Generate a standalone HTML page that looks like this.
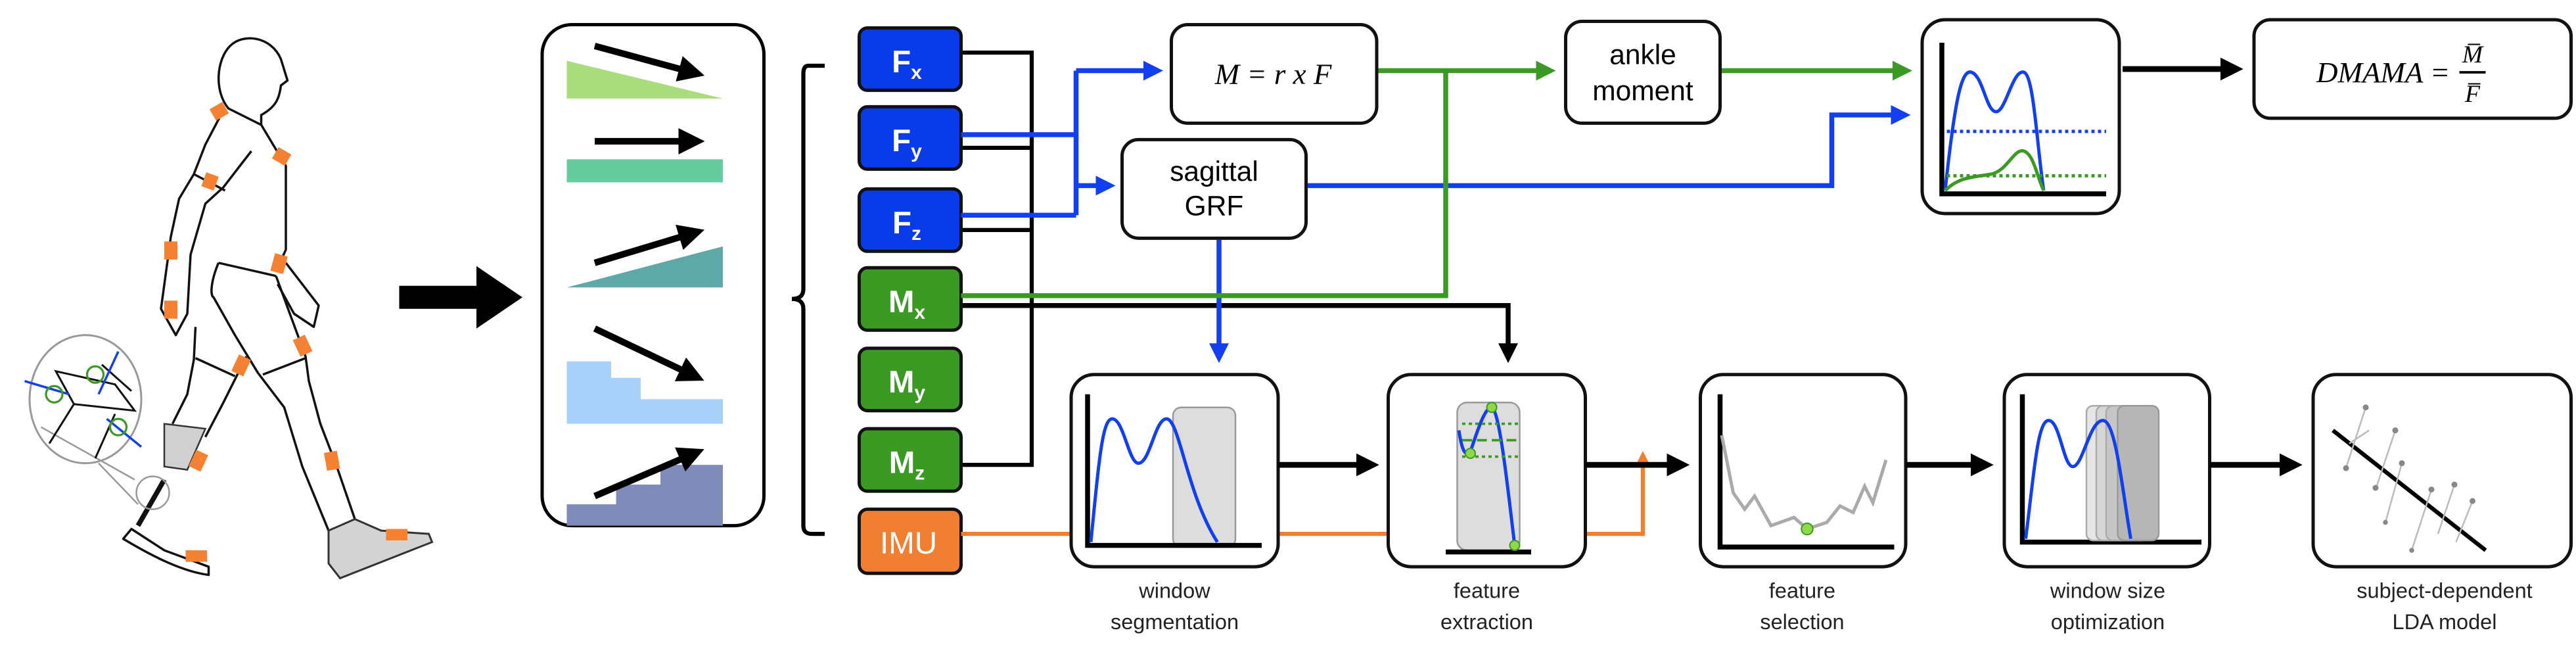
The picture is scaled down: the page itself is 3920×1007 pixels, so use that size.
<!DOCTYPE html>
<html><head><meta charset="utf-8"><style>
html,body{margin:0;padding:0;background:#fff;}
svg{display:block;}
</style></head><body>
<svg width="3920" height="1007" viewBox="0 0 1568 403" preserveAspectRatio="none" xmlns="http://www.w3.org/2000/svg">
<defs>
<marker id="ak" markerWidth="4" markerHeight="4" refX="3" refY="2" orient="auto" markerUnits="strokeWidth"><path d="M0,0 L4,2 L0,4 z" fill="#000"/></marker>
<marker id="ab" markerWidth="4" markerHeight="4" refX="3" refY="2" orient="auto" markerUnits="strokeWidth"><path d="M0,0 L4,2 L0,4 z" fill="#1240f0"/></marker>
<marker id="ag" markerWidth="4" markerHeight="4" refX="3" refY="2" orient="auto" markerUnits="strokeWidth"><path d="M0,0 L4,2 L0,4 z" fill="#3a9a24"/></marker>
<marker id="ao" markerWidth="4" markerHeight="4" refX="3" refY="2" orient="auto" markerUnits="strokeWidth"><path d="M0,0 L4,2 L0,4 z" fill="#f08030"/></marker>
</defs>
<rect width="1568" height="403" fill="#fff"/>

<!-- walker -->
<g fill="none" stroke="#111" stroke-width="1.4" stroke-linejoin="round">
<path d="M139,66 C130,55 132,36 140,28 C148,20 165,22 171,36 L175,49 L171,52 C170,60 168,65 159,70 L159,76 L139,66 Z"/>
<path d="M159,76 L174,101 L174,152 L168,165"/>
<path d="M136,67 L125,88 L118,106 L109,121 L104,144 L98,188 L107,204 L114,191 L116,155 L125,124 L136,114 L146,101 L153,92"/>
<path d="M118,106 L137,116"/>
<path d="M133,160 L168,168"/>
<path d="M174,160 L194,186 L191,199 L179,191 L169,173"/>
<path d="M133,160 C128,172 128,180 130,181 L143,204 L157,227 L173,248 L184,284 L200,323"/>
<path d="M168,168 L186,217 L188,232 L195,258 L205,284 L216,316"/>
<path d="M119,218 L143,229 M160,228 L186,218"/>
<path d="M150,217 L136,245 L125,266"/>
<path d="M119,199 L118,219 L114,240 L105,258"/>
<path d="M100,292 L84,320" stroke-width="3"/>
<path d="M75,328 C95,340 112,348 127,350 L127,345 L100,335 L80,322 Z"/>
</g>
<path d="M100,258 L125,261 L114,286 L100,284 Z" fill="#d0d0d0" stroke="#333" stroke-width="1"/>
<path d="M200,323 L216,316 L232,323 L261,325 L263,330 L207,352 L200,343 Z" fill="#d3d3d3" stroke="#333" stroke-width="1.2"/>
<ellipse cx="52" cy="243" rx="34" ry="39" fill="#fff" stroke="#999" stroke-width="1.2"/>
<circle cx="93" cy="300" r="10" fill="none" stroke="#999" stroke-width="1"/>
<path d="M60,282 L84,307 M25,260 L82,292" stroke="#999" stroke-width="1"/>
<g stroke="#111" stroke-width="1.2" fill="none">
<path d="M34,226 L70,234 L82,250 L45,246 Z M45,246 L30,270 M70,252 L58,279 M62,222 L80,238"/>
</g>
<g stroke="#1240f0" stroke-width="1.4"><path d="M42,240 L15,232 M60,240 L72,214 M65,255 L86,272"/></g>
<g stroke="#3a9a24" stroke-width="1.3" fill="none"><circle cx="33" cy="240" r="5"/><circle cx="58" cy="228" r="5"/><circle cx="72" cy="260" r="5"/></g>
<g fill="#f58232">
<rect x="129" y="64" width="9" height="8" transform="rotate(-30 133 68)"/>
<rect x="167" y="91" width="9" height="8" transform="rotate(30 171 95)"/>
<rect x="124" y="106" width="8" height="9" transform="rotate(20 128 110)"/>
<rect x="100" y="147" width="8" height="11"/>
<rect x="100" y="183" width="8" height="11"/>
<rect x="166" y="155" width="8" height="11" transform="rotate(15 170 160)"/>
<rect x="180" y="205" width="8" height="11" transform="rotate(-25 184 210)"/>
<rect x="143" y="217" width="8" height="11" transform="rotate(25 147 222)"/>
<rect x="117" y="275" width="8" height="11" transform="rotate(25 121 280)"/>
<rect x="198" y="275" width="8" height="11" transform="rotate(-10 202 280)"/>
<rect x="113" y="335" width="13" height="7"/>
<rect x="235" y="322" width="13" height="7"/>
</g>

<!-- big arrow -->
<path d="M243,174 L290,174 L290,162 L318,181 L290,200 L290,188 L243,188 Z" fill="#000"/>

<!-- left panel -->
<rect x="330" y="15" width="135" height="305" rx="18" fill="#fff" stroke="#000" stroke-width="2"/>
<polygon points="345,37 440,60 345,60" fill="#a8dc7c"/>
<polygon points="345,97 440,97 440,111 345,111" fill="#66cca0"/>
<polygon points="345,175 440,150 440,175" fill="#5fa8a8"/>
<polygon points="345,220 372,220 372,230 390,230 390,243 440,243 440,258 345,258" fill="#a8d0f8"/>
<polygon points="345,320 345,307 375,307 375,295 402,295 402,283 440,283 440,320" fill="#7f8bb8"/>
<g stroke="#000" stroke-width="4" marker-end="url(#ak)">
<line x1="362" y1="28" x2="425" y2="45"/>
<line x1="362" y1="86" x2="425" y2="86"/>
<line x1="362" y1="160" x2="425" y2="141"/>
<line x1="362" y1="200" x2="425" y2="230"/>
<line x1="362" y1="302" x2="425" y2="275"/>
</g>

<!-- brace -->
<path d="M502,40 L492,40 Q489,40 489,45 L489,176 Q489,182 482,182 Q489,182 489,188 L489,320 Q489,325 494,325 L502,325" fill="none" stroke="#000" stroke-width="2.5"/>

<!-- black connector lines from sensors -->
<g stroke="#000" stroke-width="2.5" fill="none">
<path d="M585,32 L628,32 L628,283 L585,283"/>
<path d="M585,90 L628,90 M585,140 L628,140"/>
</g>
<path d="M585,186 L918,186 L918,218" fill="none" stroke="#000" stroke-width="3" marker-end="url(#ak)"/>

<!-- sensor boxes -->
<g font-family="Liberation Sans, sans-serif" font-weight="bold" fill="#fff" text-anchor="middle">
<rect x="523" y="17" width="62" height="38" rx="5" fill="#0a3be8" stroke="#111" stroke-width="2"/>
<text x="552" y="44" font-size="19">F<tspan font-size="12" dy="4">x</tspan></text>
<rect x="523" y="65" width="62" height="38" rx="5" fill="#0a3be8" stroke="#111" stroke-width="2"/>
<text x="552" y="92" font-size="19">F<tspan font-size="12" dy="4">y</tspan></text>
<rect x="523" y="115" width="62" height="38" rx="5" fill="#0a3be8" stroke="#111" stroke-width="2"/>
<text x="552" y="142" font-size="19">F<tspan font-size="12" dy="4">z</tspan></text>
<rect x="523" y="163" width="62" height="38" rx="5" fill="#3a9a24" stroke="#111" stroke-width="2"/>
<text x="552" y="190" font-size="19">M<tspan font-size="12" dy="4">x</tspan></text>
<rect x="523" y="212" width="62" height="38" rx="5" fill="#3a9a24" stroke="#111" stroke-width="2"/>
<text x="552" y="239" font-size="19">M<tspan font-size="12" dy="4">y</tspan></text>
<rect x="523" y="261" width="62" height="38" rx="5" fill="#3a9a24" stroke="#111" stroke-width="2"/>
<text x="552" y="288" font-size="19">M<tspan font-size="12" dy="4">z</tspan></text>
<rect x="523" y="310" width="62" height="39" rx="5" fill="#f07f32" stroke="#111" stroke-width="2"/>
<text x="553" y="337" font-size="19" font-weight="normal">IMU</text>
</g>

<!-- blue connectors -->
<g stroke="#1240f0" stroke-width="3" fill="none">
<path d="M585,82 L655,82 M585,131 L655,131 M655,131 L655,43"/>
<path d="M655,43 L705,43" marker-end="url(#ab)"/>
<path d="M655,113 L676,113" marker-end="url(#ab)"/>
<path d="M742,146 L742,218" marker-end="url(#ab)"/>
<path d="M795,113 L1115,113 L1115,70 L1160,70" marker-end="url(#ab)"/>
</g>
<!-- green connectors -->
<g stroke="#3a9a24" stroke-width="3" fill="none">
<path d="M585,180 L880,180 L880,43"/>
<path d="M838,43 L944,43" marker-end="url(#ag)"/>
<path d="M1047,43 L1161,43" marker-end="url(#ag)"/>
</g>
<!-- orange -->
<g stroke="#f08030" stroke-width="2.5" fill="none">
<path d="M585,325 L652,325 M778,325 L845,325"/>
<path d="M965,325 L1000,325 L1000,277" marker-end="url(#ao)"/>
</g>

<!-- top boxes -->
<rect x="713" y="15" width="125" height="60" rx="10" fill="#fff" stroke="#111" stroke-width="2"/>
<text x="775" y="51" font-family="Liberation Serif, serif" font-style="italic" font-size="18" text-anchor="middle">M = r x F</text>
<rect x="683" y="85" width="112" height="60" rx="10" fill="#fff" stroke="#111" stroke-width="2"/>
<text x="739" y="110" font-family="Liberation Sans, sans-serif" font-size="17" text-anchor="middle">sagittal</text>
<text x="739" y="131" font-family="Liberation Sans, sans-serif" font-size="17" text-anchor="middle">GRF</text>
<rect x="953" y="13" width="94" height="62" rx="10" fill="#fff" stroke="#111" stroke-width="2"/>
<text x="1000" y="39" font-family="Liberation Sans, sans-serif" font-size="17" text-anchor="middle">ankle</text>
<text x="1000" y="61" font-family="Liberation Sans, sans-serif" font-size="17" text-anchor="middle">moment</text>

<!-- top plot -->
<rect x="1170" y="12" width="120" height="118" rx="14" fill="#fff" stroke="#111" stroke-width="2"/>
<path d="M1182,26 L1182,118 L1282,118" fill="none" stroke="#000" stroke-width="3"/>
<path d="M1184,116 C1190,60 1194,42 1200,44 C1207,46 1209,68 1215,68 C1221,68 1225,42 1232,44 C1238,46 1240,90 1244,116" fill="none" stroke="#1240f0" stroke-width="2"/>
<line x1="1185" y1="80" x2="1282" y2="80" stroke="#1240f0" stroke-width="2" stroke-dasharray="2,2"/>
<path d="M1184,116 C1192,108 1200,108 1212,106 C1222,104 1226,90 1232,92 C1238,94 1240,108 1244,116" fill="none" stroke="#3a9a24" stroke-width="2"/>
<line x1="1185" y1="107" x2="1282" y2="107" stroke="#3a9a24" stroke-width="2" stroke-dasharray="2,2"/>
<path d="M1292,42 L1362,42" stroke="#000" stroke-width="3.5" marker-end="url(#ak)"/>
<rect x="1372" y="12" width="193" height="60" rx="10" fill="#fff" stroke="#111" stroke-width="2"/>
<text x="1410" y="50" font-family="Liberation Serif, serif" font-style="italic" font-size="18">DMAMA =</text>
<line x1="1497" y1="44" x2="1513" y2="44" stroke="#000" stroke-width="1.5"/>
<text x="1505" y="38" font-family="Liberation Serif, serif" font-style="italic" font-size="15" text-anchor="middle">M̅</text>
<text x="1505" y="62" font-family="Liberation Serif, serif" font-style="italic" font-size="15" text-anchor="middle">F̅</text>

<!-- bottom boxes -->
<g fill="#fff" stroke="#111" stroke-width="2">
<rect x="652" y="228" width="126" height="117" rx="14"/>
<rect x="845" y="228" width="120" height="117" rx="14"/>
<rect x="1035" y="228" width="125" height="117" rx="14"/>
<rect x="1220" y="228" width="125" height="117" rx="14"/>
<rect x="1408" y="228" width="157" height="117" rx="14"/>
</g>
<g stroke="#000" stroke-width="3.5" marker-end="url(#ak)">
<line x1="778" y1="283" x2="836" y2="283"/>
<line x1="965" y1="283" x2="1025" y2="283"/>
<line x1="1160" y1="283" x2="1210" y2="283"/>
<line x1="1345" y1="283" x2="1398" y2="283"/>
</g>
<!-- window segmentation plot -->
<rect x="714" y="248" width="38" height="85" rx="5" fill="#ddd" stroke="#999" stroke-width="1"/>
<path d="M662,240 L662,332 L768,332" fill="none" stroke="#000" stroke-width="3"/>
<path d="M664,330 C669,280 671,255 677,255 C684,255 687,282 693,282 C700,282 703,255 710,255 C718,255 722,300 741,330" fill="none" stroke="#1240f0" stroke-width="2"/>
<!-- feature extraction -->
<rect x="887" y="245" width="38" height="90" rx="6" fill="#ddd" stroke="#999" stroke-width="1"/>
<line x1="880" y1="336" x2="932" y2="336" stroke="#000" stroke-width="3"/>
<path d="M888,262 C890,275 892,278 895,275 C900,260 904,248 908,248 C913,250 918,300 922,332" fill="none" stroke="#1240f0" stroke-width="2"/>
<g stroke="#3a9a24" stroke-width="1.5"><line x1="890" y1="258" x2="925" y2="258" stroke-dasharray="2,2"/><line x1="890" y1="268" x2="925" y2="268" stroke-dasharray="6,3"/><line x1="890" y1="278" x2="925" y2="278" stroke-dasharray="2,2"/></g>
<g fill="#8fd84a" stroke="#3a9a24" stroke-width="0.8"><circle cx="908" cy="248" r="3"/><circle cx="895" cy="276" r="3"/><circle cx="922" cy="332" r="3"/></g>
<!-- feature selection -->
<path d="M1047,240 L1047,333 L1153,333" fill="none" stroke="#000" stroke-width="3"/>
<polyline points="1048,265 1055,300 1062,310 1068,302 1078,320 1092,315 1100,322 1112,318 1120,308 1128,312 1135,296 1140,306 1148,280" fill="none" stroke="#aaa" stroke-width="2"/>
<circle cx="1100" cy="322" r="3.5" fill="#8fd84a" stroke="#3a9a24" stroke-width="0.8"/>
<!-- window size opt -->
<path d="M1231,240 L1231,330 L1340,330" fill="none" stroke="#000" stroke-width="3"/>
<rect x="1270" y="247" width="25" height="82" rx="4" fill="#e6e6e6" stroke="#aaa" stroke-width="1"/>
<rect x="1276" y="247" width="25" height="82" rx="4" fill="#d6d6d6" stroke="#aaa" stroke-width="1"/>
<rect x="1282" y="247" width="25" height="82" rx="4" fill="#c6c6c6" stroke="#aaa" stroke-width="1"/>
<rect x="1289" y="247" width="25" height="82" rx="4" fill="#b6b6b6" stroke="#999" stroke-width="1"/>
<path d="M1233,328 C1238,290 1240,256 1247,256 C1254,256 1256,285 1262,284 C1268,283 1272,256 1280,256 C1288,256 1292,300 1297,328" fill="none" stroke="#1240f0" stroke-width="2"/>
<!-- LDA -->
<line x1="1420" y1="262" x2="1513" y2="335" stroke="#000" stroke-width="2.5"/>
<g stroke="#bbb" stroke-width="1" fill="none">
<path d="M1440,248 L1428,285 M1458,262 L1446,298 M1462,282 L1452,318 M1480,298 L1468,335 M1494,295 L1484,325 M1505,305 L1495,330 M1442,262 L1430,270"/>
</g>
<g fill="#888"><circle cx="1440" cy="248" r="1.8"/><circle cx="1428" cy="285" r="1.8"/><circle cx="1458" cy="262" r="1.8"/><circle cx="1446" cy="297" r="1.8"/><circle cx="1462" cy="282" r="1.8"/><circle cx="1480" cy="298" r="1.8"/><circle cx="1494" cy="295" r="1.8"/><circle cx="1505" cy="305" r="1.8"/><circle cx="1468" cy="335" r="1.5"/><circle cx="1452" cy="318" r="1.5"/></g>

<!-- labels -->
<g font-family="Liberation Sans, sans-serif" font-size="13" fill="#222" text-anchor="middle">
<text x="715" y="364">window</text><text x="715" y="383">segmentation</text>
<text x="905" y="364">feature</text><text x="905" y="383">extraction</text>
<text x="1097" y="364">feature</text><text x="1097" y="383">selection</text>
<text x="1283" y="364">window size</text><text x="1283" y="383">optimization</text>
<text x="1488" y="364">subject-dependent</text><text x="1488" y="383">LDA model</text>
</g>
</svg>
</body></html>
